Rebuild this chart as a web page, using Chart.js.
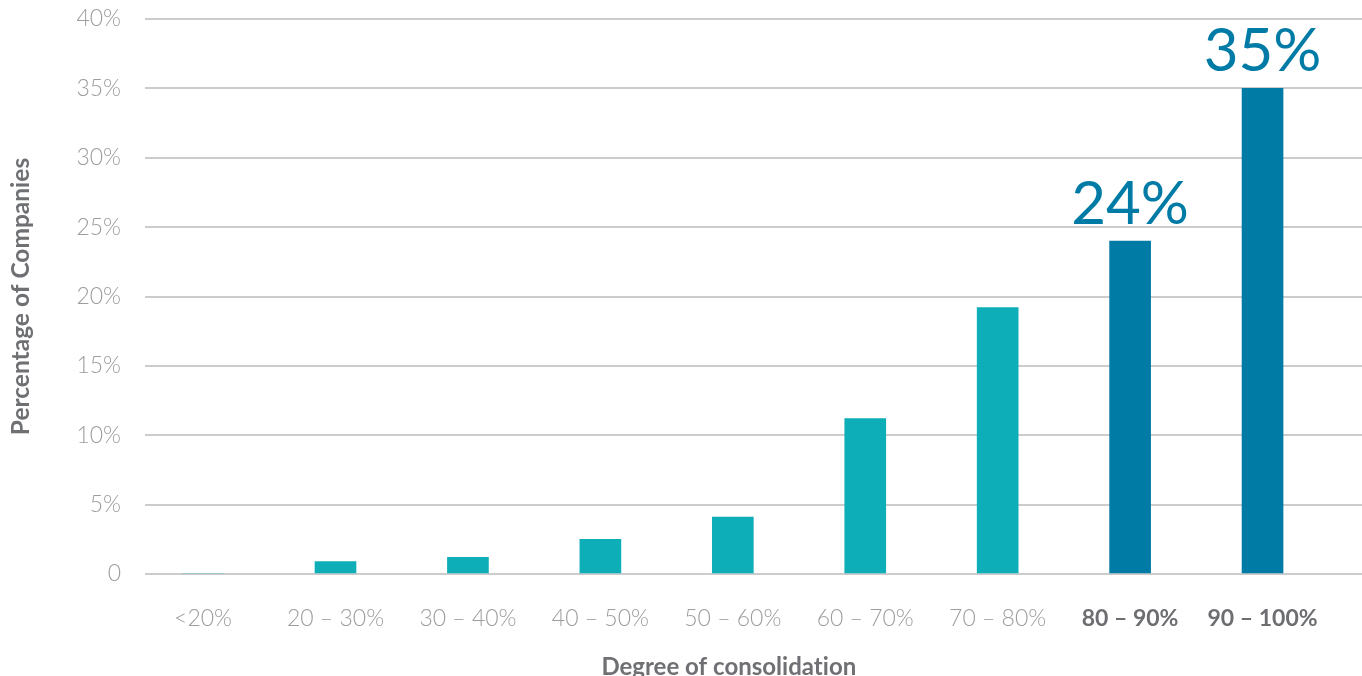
<!DOCTYPE html>
<html>
<head>
<meta charset="utf-8">
<script src="https://cdn.jsdelivr.net/npm/chart.js@4/dist/chart.umd.min.js"></script>
<style>
  html, body { margin: 0; padding: 0; background: #ffffff; }
  #wrap { width: 1362px; height: 676px; position: relative; }
</style>
</head>
<body>
<div id="wrap"><canvas id="chart"></canvas></div>
<script>
// Share of companies by degree of consolidation
const categories = ['<20%', '20 – 30%', '30 – 40%', '40 – 50%', '50 – 60%', '60 – 70%', '70 – 80%', '80 – 90%', '90 – 100%'];
const percentages = [0, 0.9, 1.2, 2.5, 4.1, 11.2, 19.2, 24, 35];
const highlighted = [false, false, false, false, false, false, false, true, true];
const yTicks = [0, 5, 10, 15, 20, 25, 30, 35, 40];
const xTitle = 'Degree of consolidation';
const yTitle = 'Percentage of Companies';

const TEAL = '#0eaeb8';
const BLUE = '#007ba6';
const TITLE_GREY = '#6f7073';
const FONT = 'Lato';

// Big value labels over the emphasised bars
const valueLabels = {
  id: 'valueLabels',
  afterDatasetsDraw(chart) {
    const { ctx } = chart;
    const meta = chart.getDatasetMeta(0);
    ctx.save();
    ctx.font = `400 60px ${FONT}`;
    ctx.fillStyle = BLUE;
    ctx.textAlign = 'center';
    ctx.textBaseline = 'alphabetic';
    meta.data.forEach((bar, i) => {
      if (!highlighted[i]) return;
      ctx.fillText(percentages[i] + '%', bar.x, bar.y - 17);
    });
    ctx.restore();
  }
};

// Horizontal axis title, centred under the span of the categories
const categoryTitle = {
  id: 'categoryTitle',
  afterDraw(chart) {
    const { ctx } = chart;
    const x = chart.scales.x;
    const cx = (x.getPixelForValue(0) + x.getPixelForValue(categories.length - 1)) / 2;
    ctx.save();
    ctx.font = `bold 24px ${FONT}`;
    ctx.fillStyle = TITLE_GREY;
    ctx.textAlign = 'center';
    ctx.textBaseline = 'alphabetic';
    // a tiny tracking value keeps the "ti" pair from being joined
    if ('letterSpacing' in ctx) ctx.letterSpacing = '0.01px';
    ctx.fillText(xTitle, cx - 4, x.bottom - 1);
    ctx.restore();
  }
};

new Chart(document.getElementById('chart'), {
  type: 'bar',
  data: {
    datasets: [{
      data: percentages.map((v, i) => ({ x: i, y: v })),
      backgroundColor: ctx => highlighted[ctx.dataIndex] ? BLUE : TEAL,
      barThickness: 41,
      borderWidth: 0
    }]
  },
  options: {
    responsive: true,
    maintainAspectRatio: false,
    animation: false,
    layout: { padding: { top: 19, right: 0, left: 0, bottom: 0 } },
    plugins: { legend: { display: false }, tooltip: { enabled: false } },
    scales: {
      x: {
        type: 'linear',
        offset: false,
        min: -0.4385,
        max: 8.751,
        grid: { display: false, drawTicks: false },
        border: { display: false },
        afterFit(scale) { scale.height = 102; },
        ticks: {
          stepSize: 1,
          includeBounds: false,
          autoSkip: false,
          maxRotation: 0,
          padding: 31,
          callback: v => Number.isInteger(v) ? categories[v] : '',
          color: ctx => highlighted[ctx.tick && ctx.tick.value] ? '#6d6e71' : '#9d9d9d',
          font: ctx => ({
            family: FONT,
            size: 23,
            weight: highlighted[ctx.tick && ctx.tick.value] ? 'bold' : 300
          })
        },
        title: { display: false }
      },
      y: {
        min: 0,
        max: 40,
        grid: { color: '#cccccc', lineWidth: 2, drawTicks: false },
        border: { display: false },
        afterFit(scale) {
          scale.width = 145;
          scale.paddingTop = 0;
          scale.paddingBottom = 0;
        },
        afterBuildTicks(scale) { scale.ticks = yTicks.map(v => ({ value: v })); },
        ticks: {
          padding: 24,
          color: '#9d9d9d',
          font: { family: FONT, size: 23, weight: 300 },
          callback: v => v === 0 ? '0' : v + '%'
        },
        title: {
          display: true,
          text: yTitle,
          color: TITLE_GREY,
          font: { family: FONT, size: 24.5, weight: 'bold' },
          padding: { top: 6, bottom: 0 }
        }
      }
    }
  },
  plugins: [valueLabels, categoryTitle]
});
</script>
</body>
</html>
